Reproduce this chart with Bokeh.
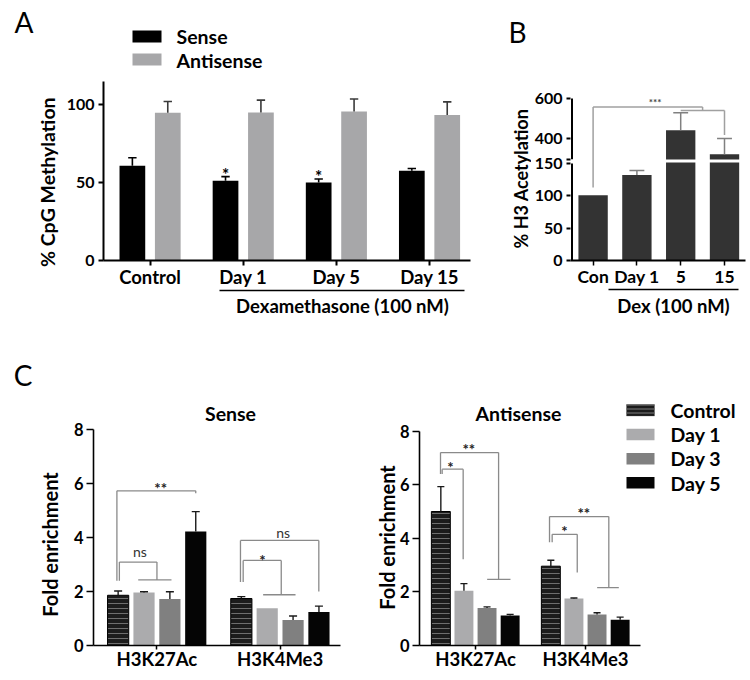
import numpy as np
from bokeh.plotting import figure
from bokeh.models import FixedTicker, Label, BoxAnnotation, LinearAxis
from bokeh.layouts import row, column
from bokeh.embed import file_html
from bokeh.resources import INLINE

FONT = "Lato"

# ---------------- data ----------------
# Panel A: % CpG methylation
A_groups = ["Control", "Day 1", "Day 5", "Day 15"]
A_sense = [60.8, 51.3, 50.1, 57.6]
A_sense_sem = [5.2, 2.6, 2.2, 1.5]
A_anti = [94.9, 95.0, 95.7, 93.4]
A_anti_sem = [7.2, 8.0, 8.0, 8.5]
A_yticks = [0, 50, 100]
A_star_groups = [1, 2]

# Panel B: % H3 acetylation (broken axis 150 / 300)
B_groups = ["Con", "Day 1", "5", "15"]
B_values = [101, 132, 443, 325]
B_sem = [0, 7, 87, 77]
B_yticks = [0, 50, 100, 150, 300, 400, 600]
B_yticklabels = ["0", "50", "100", "150", "", "400", "600"]

# Panel C: fold enrichment
C_marks = ["H3K27Ac", "H3K4Me3"]
C_series = ["Control", "Day 1", "Day 3", "Day 5"]
C_sense_control = [1.86, 1.74]
C_sense_day1 = [1.96, 1.38]
C_sense_day3 = [1.72, 0.94]
C_sense_day5 = [4.22, 1.24]
C_sense_control_sem = [0.16, 0.07]
C_sense_day1_sem = [0.03, 0.0]
C_sense_day3_sem = [0.27, 0.15]
C_sense_day5_sem = [0.74, 0.22]
C_anti_control = [5.00, 2.96]
C_anti_day1 = [2.04, 1.75]
C_anti_day3 = [1.40, 1.16]
C_anti_day5 = [1.12, 0.96]
C_anti_control_sem = [0.93, 0.22]
C_anti_day1_sem = [0.27, 0.02]
C_anti_day3_sem = [0.04, 0.06]
C_anti_day5_sem = [0.04, 0.10]
C_yticks = [0, 2, 4, 6, 8]

# significance brackets:
# (x_left, y_left_end, x_right, y_right_end, y_top, group_x0, group_x1, text, text_x, text_y)
C_sense_brackets = [
    (-0.325, 2.40, 0.315, 5.64, 5.73, None, None, "**", 0.03, 5.97),
    (-0.305, 2.40, 0.0, 2.43, 3.09, -0.152, 0.118, "ns", -0.138, 3.42),
    (0.678, 2.35, 1.314, 2.00, 3.89, None, None, "ns", 1.025, 4.10),
    (0.700, 2.35, 1.009, 1.88, 3.15, 0.862, 1.125, "*", 0.857, 3.30),
]
C_anti_brackets = [
    (-0.318, 6.40, 0.21, 2.47, 7.20, 0.106, 0.318, "**", -0.061, 7.47),
    (-0.303, 6.40, -0.112, 3.22, 6.58, None, None, "*", -0.227, 6.77),
    (0.673, 3.85, 1.212, 2.16, 4.81, 1.106, 1.303, "**", 0.985, 5.06),
    (0.697, 3.85, 0.925, 2.72, 4.15, None, None, "*", 0.809, 4.40),
]

C_colors = ["#1c1c1c", "#ababad", "#808080", "#050505"]


def brk(v):
    v = np.asarray(v, dtype=float)
    return np.where(v <= 150, v, 156.6 + (v - 300.0) * 0.3125)


class Frame:
    def __init__(self, L, R, T, B, xr, yr):
        self.L, self.R, self.T, self.B = L, R, T, B
        self.x0, self.x1 = xr
        self.y0, self.y1 = yr

    def x(self, px):
        return self.x0 + (px - self.L) * (self.x1 - self.x0) / (self.R - self.L)

    def y(self, py):
        return self.y0 + (self.B - py) * (self.y1 - self.y0) / (self.B - self.T)


def style_axis(ax, size, tick_out, standoff, style="bold"):
    ax.minor_tick_line_color = None
    ax.major_tick_in = 0
    ax.major_tick_out = tick_out
    ax.major_label_standoff = standoff
    ax.axis_line_color = "black"
    ax.major_tick_line_color = "black"
    ax.major_label_text_font = FONT
    ax.major_label_text_font_style = style
    ax.major_label_text_font_size = f"{size}px"
    ax.major_label_text_color = "black"


def make_fig(f, fx0, fy0, fx1, fy1):
    p = figure(frame_width=f.R - f.L, frame_height=f.B - f.T,
               min_border_left=f.L - fx0, min_border_right=fx1 - f.R,
               min_border_top=f.T - fy0, min_border_bottom=fy1 - f.B,
               x_range=(f.x0, f.x1), y_range=(f.y0, f.y1),
               output_backend="svg", toolbar_location=None, title=None)
    p.xgrid.visible = False
    p.ygrid.visible = False
    p.outline_line_color = None
    p.background_fill_color = "white"
    p.border_fill_color = "white"
    return p


def text_axis(p, side, tick, label, size, standoff, style="normal", bounds="auto", line=False,
              orientation="horizontal"):
    ax = LinearAxis(ticker=FixedTicker(ticks=[tick]), major_label_overrides={tick: label}, bounds=bounds,
                    major_label_orientation=orientation)
    style_axis(ax, size, 0, standoff, style)
    ax.major_tick_line_color = None
    if line:
        ax.axis_line_width = 1.5
    else:
        ax.axis_line_color = None
    p.add_layout(ax, side)


def spacer_axis(p, side, px):
    ax = LinearAxis(ticker=FixedTicker(ticks=[]))
    ax.axis_line_color = None
    ax.major_tick_line_color = None
    ax.minor_tick_line_color = None
    ax.major_tick_in = 0
    ax.major_tick_out = px
    ax.major_label_standoff = 0
    p.add_layout(ax, side)


def text(p, x, y, t, size, style="bold", align="center", baseline="middle", angle=0.0, color="black"):
    p.add_layout(Label(x=x, y=y, text=t, text_font=FONT, text_font_size=f"{size}px",
                       text_font_style=style, text_align=align, text_baseline=baseline,
                       angle=angle, angle_units="rad", text_color=color))


def errbars(p, xs, tops, ends, cap, color, lw):
    xs = np.asarray(xs, float); tops = np.asarray(tops, float); ends = np.asarray(ends, float)
    m = ends > tops + 1e-9
    p.segment(x0=xs[m], y0=tops[m], x1=xs[m], y1=ends[m], line_color=color, line_width=lw)
    p.segment(x0=xs[m] - cap / 2, y0=ends[m], x1=xs[m] + cap / 2, y1=ends[m], line_color=color, line_width=lw)


# ---------------- Panel A ----------------
fa = Frame(103, 531, 0, 260, (-0.5, -0.5 + 428 / 93.15), (0, 260 / 1.557))
pA = make_fig(fa, 0, 0, 531, 330)
xA = np.arange(len(A_groups))
offA, wA = 0.19, 0.276
pA.vbar(x=xA - offA, top=A_sense, width=wA, fill_color="black", line_color=None)
pA.vbar(x=xA + offA, top=A_anti, width=wA, fill_color="#a7a7a9", line_color=None)
errbars(pA, xA - offA, A_sense, np.add(A_sense, A_sense_sem), 0.09, "black", 1.6)
errbars(pA, xA + offA, A_anti, np.add(A_anti, A_anti_sem), 0.09, "#3a3a3a", 1.6)
for g in A_star_groups:
    text(pA, g - offA, A_sense[g] + A_sense_sem[g] + 1.5, "*", 17)
style_axis(pA.yaxis[0], 16, 5, 4)
pA.yaxis[0].ticker = FixedTicker(ticks=A_yticks)
pA.yaxis[0].bounds = (0, 115)
style_axis(pA.xaxis[0], 18.5, 5, 0)
pA.xaxis[0].ticker = FixedTicker(ticks=list(xA))
pA.xaxis[0].major_label_overrides = {int(i): g for i, g in enumerate(A_groups)}
pA.xaxis[0].bounds = (-0.5, 3.44)
for ax in (pA.xaxis[0], pA.yaxis[0]):
    ax.axis_line_width = 2
    ax.major_tick_line_width = 2
text_axis(pA, "left", float(fa.y(181.7)), "% CpG Methylation", 19.5, 4, style="bold", orientation="vertical")
text_axis(pA, "left", float(fa.y(21.7)), "A", 28, 0)
spacer_axis(pA, "below", 5)
text_axis(pA, "below", float(fa.x(342)), "Dexamethasone (100 nM)", 18.5, 4, style="bold",
          bounds=(float(fa.x(219)), float(fa.x(464))), line=True)
# legend of panel A
pA.add_layout(BoxAnnotation(left=fa.x(132), right=fa.x(161), top=fa.y(30), bottom=fa.y(42),
                            fill_color="black", fill_alpha=1, line_color=None))
pA.add_layout(BoxAnnotation(left=fa.x(132), right=fa.x(161), top=fa.y(53), bottom=fa.y(65),
                            fill_color="#a7a7a9", fill_alpha=1, line_color=None))
text(pA, fa.x(176), fa.y(36), "Sense", 19.5, align="left")
text(pA, fa.x(176), fa.y(60), "Antisense", 19.5, align="left")
# panel B letter and y-axis title (they sit left of panel B's axis)
text(pA, fa.x(517), fa.y(31.7), "B", 28, style="normal", baseline="alphabetic")
text(pA, fa.x(520.8), fa.y(178), "% H3 Acetylation", 18, angle=np.pi / 2)

# ---------------- Panel B ----------------
x0b = -(589.6 - 567) / 43.8
fb = Frame(567, 742, 0, 260, (x0b, x0b + 175 / 43.8), (0, 260 / 0.647))
pB = make_fig(fb, 531, 0, 750, 330)
xB = np.arange(len(B_groups))
wB = 0.67
pB.vbar(x=xB, top=brk(B_values), width=wB, fill_color="#333333", line_color=None)
errbars(pB, xB, brk(B_values), brk(np.add(B_values, B_sem)), 0.34, "#808080", 1.5)
big = np.asarray(B_values) > 150
pB.quad(left=xB[big] - wB / 2 - 0.02, right=xB[big] + wB / 2 + 0.02,
        bottom=151.5, top=156.0, fill_color="white", line_color=None)
# broken y-axis line
ax_x = fb.x(568.5)
pB.segment(x0=[ax_x, ax_x], y0=brk([0, 300]), x1=[ax_x, ax_x], y1=brk([150, 600]),
           line_color="black", line_width=2)
# significance bracket Con vs 5/15
bc = "#a0a0a0"
pB.segment(x0=[0, 0, 2.5, 2.0, 3.0], y0=brk([113, 558, 558, 541, 541]),
           x1=[0, 2.5, 2.5, 3.0, 3.0], y1=brk([558, 558, 541, 541, 419]),
           line_color=bc, line_width=1.5)
text(pB, fb.x(651.7), fb.y(101.5), "***", 10, color="#444444")
style_axis(pB.yaxis[0], 16, 4, 4)
pB.yaxis[0].axis_line_color = None
pB.yaxis[0].ticker = FixedTicker(ticks=[float(t) for t in brk(B_yticks)])
pB.yaxis[0].major_label_overrides = {float(t): s for t, s in zip(brk(B_yticks), B_yticklabels)}
pB.yaxis[0].major_tick_line_width = 2
style_axis(pB.xaxis[0], 17.5, 5, 0)
pB.xaxis[0].ticker = FixedTicker(ticks=list(xB))
pB.xaxis[0].major_label_overrides = {int(i): g for i, g in enumerate(B_groups)}
pB.xaxis[0].axis_line_width = 2
pB.xaxis[0].major_tick_line_width = 1.5
pB.xaxis[0].bounds = (x0b, 3.47)
spacer_axis(pB, "below", 8)
text_axis(pB, "below", float(fb.x(670)), "Dex (100 nM)", 18.5, 5, style="bold",
          bounds=(float(fb.x(605)), float(fb.x(735))), line=True)


# ---------------- Panel C ----------------
def panel_c(f, fx0, fy0, fx1, fy1, vals, sems, brackets, title, title_px, ylab_py, ylab_standoff, capw):
    p = make_fig(f, fx0, fy0, fx1, fy1)
    xg = np.arange(len(C_marks))
    pitch, w = 0.21, 0.172
    for k, (v, s) in enumerate(zip(vals, sems)):
        xs = xg + (k - 1.5) * pitch
        if k == 0:
            p.vbar(x=xs, top=v, width=w, fill_color=C_colors[k], line_color="black", line_width=1,
                   hatch_pattern="horizontal_line", hatch_color="#6e6e6e", hatch_scale=5, hatch_weight=1)
        else:
            p.vbar(x=xs, top=v, width=w, fill_color=C_colors[k], line_color=None)
        errbars(p, xs, v, np.add(v, s), capw, "#1a1a1a", 1.4)
    gc = "#8a8a8a"
    for (xl, yl, xr, yr, yt, g0, g1, t, tx, ty) in brackets:
        x0s = [xl, xl, xr]; y0s = [yl, yt, yt]; x1s = [xl, xr, xr]; y1s = [yt, yt, yr]
        if g0 is not None:
            x0s.append(g0); y0s.append(yr); x1s.append(g1); y1s.append(yr)
        p.segment(x0=x0s, y0=y0s, x1=x1s, y1=y1s, line_color=gc, line_width=1.3)
        if t == "ns":
            text(p, tx, ty + 0.07, t, 14, style="normal", color="#333333")
        else:
            text(p, tx, ty - 0.12, t, 15, color="#222222")
    style_axis(p.yaxis[0], 16.5, 7, 3)
    p.yaxis[0].ticker = FixedTicker(ticks=C_yticks)
    p.yaxis[0].bounds = (0, 8)
    style_axis(p.xaxis[0], 18.5, 4, -2)
    p.xaxis[0].ticker = FixedTicker(ticks=list(xg))
    p.xaxis[0].major_label_overrides = {int(i): m for i, m in enumerate(C_marks)}
    p.xaxis[0].bounds = (f.x0, min(f.x1, 1.5))
    for ax in (p.xaxis[0], p.yaxis[0]):
        ax.axis_line_width = 1.6
        ax.major_tick_line_width = 1.5
    text_axis(p, "left", float(f.y(ylab_py)), "Fold enrichment", 20, ylab_standoff, style="bold",
              orientation="vertical")
    text(p, f.x(title_px[0]), f.y(title_px[1]), title, 19.5)
    return p


fc1 = Frame(93, 340, 330, 645, (-0.515, 1.49), (0, 315 / 27.0))
pC1 = panel_c(fc1, 0, 330, 371, 675,
              [C_sense_control, C_sense_day1, C_sense_day3, C_sense_day5],
              [C_sense_control_sem, C_sense_day1_sem, C_sense_day3_sem, C_sense_day5_sem],
              C_sense_brackets, "Sense", (230, 413), 544, 9, 0.065)
text_axis(pC1, "left", float(fc1.y(374.2)), "C", 28, 2)

fc2 = Frame(419, 742, 330, 645, (-0.509, -0.509 + 323 / 110.0), (0, 315 / 26.8))
pC2 = panel_c(fc2, 371, 330, 750, 675,
              [C_anti_control, C_anti_day1, C_anti_day3, C_anti_day5],
              [C_anti_control_sem, C_anti_day1_sem, C_anti_day3_sem, C_anti_day5_sem],
              C_anti_brackets, "Antisense", (518, 413), 537, -2, 0.064)
# legend for panel C
for k, name in enumerate(C_series):
    top = 404 + 24.2 * k
    kw = dict(left=fc2.x(626), right=fc2.x(654), top=fc2.y(top), bottom=fc2.y(top + 11.5),
              fill_color=C_colors[k], fill_alpha=1, line_color=None)
    if k == 0:
        kw.update(hatch_pattern="horizontal_line", hatch_color="#6e6e6e", hatch_scale=4, hatch_weight=1.2,
                  line_color="#555555", line_width=1)
    pC2.add_layout(BoxAnnotation(**kw))
    text(pC2, fc2.x(670), fc2.y(top + 6), name, 19.5, align="left")

layout = column(row(pA, pB), row(pC1, pC2))
open("out.html", "w").write(file_html(layout, INLINE))
